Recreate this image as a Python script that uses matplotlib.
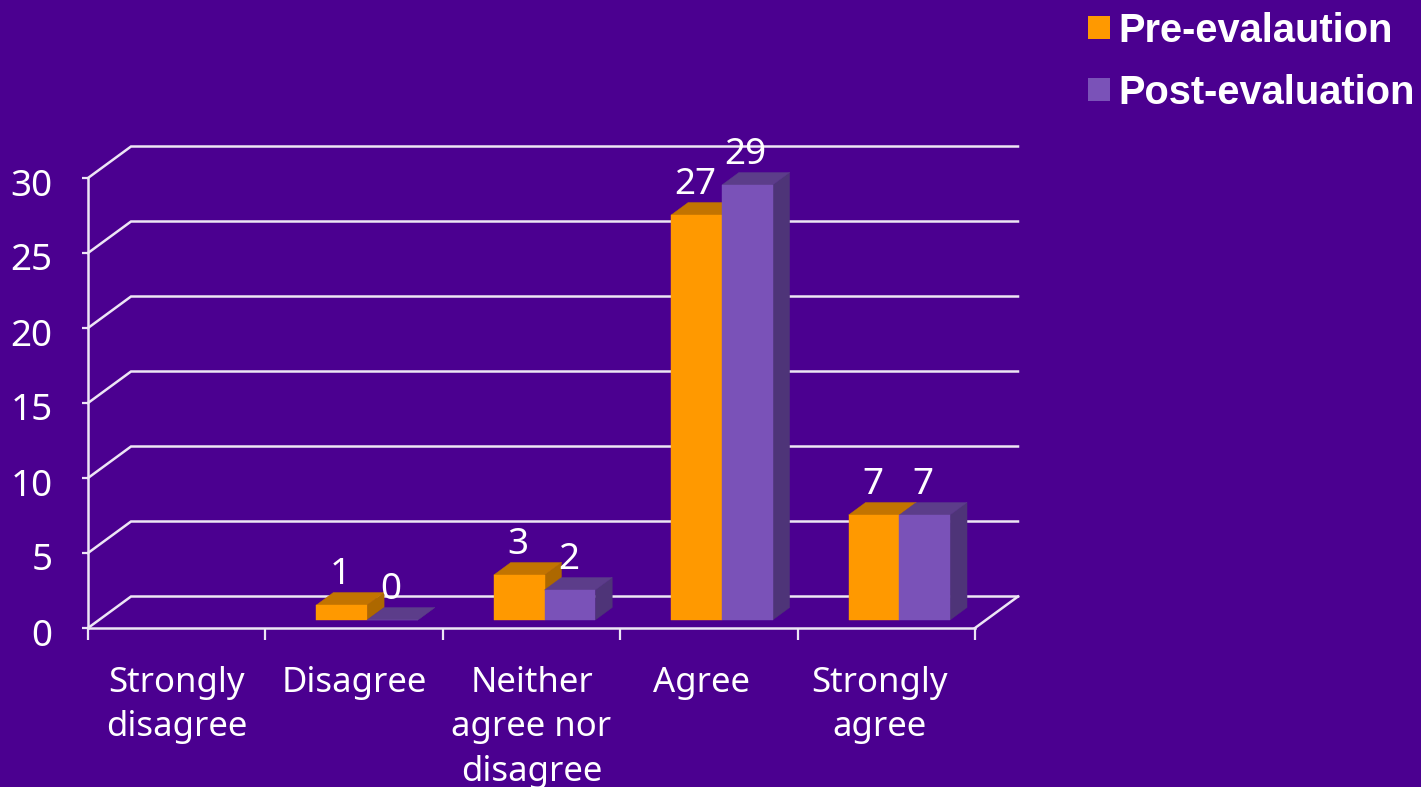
import matplotlib
matplotlib.use("Agg")
import matplotlib.pyplot as plt
from matplotlib.patches import Polygon, Patch
from matplotlib.transforms import IdentityTransform, ScaledTranslation
import numpy as np

categories = ["Strongly\ndisagree", "Disagree", "Neither\nagree nor\ndisagree", "Agree", "Strongly\nagree"]
pre_evaluation = [None, 1, 3, 27, 7]
post_evaluation = [None, 0, 2, 29, 7]
y_ticks = [0, 5, 10, 15, 20, 25, 30]
series_names = ["Pre-evalaution", "Post-evaluation"]

BG = "#4B0090"
LINE = "#EDE6F5"
ORANGE = ("#FF9900", "#C27400", "#AD6800")
PURPLE = ("#7A52B8", "#5C3D8A", "#4E3478")
W, H = 1421, 787
FONT = ["Noto Sans", "DejaVu Sans"]

fig = plt.figure(figsize=(W / 100, H / 100), dpi=100, facecolor=BG)
ax = fig.add_axes([88 / W, 1 - 628 / H, (975 - 88) / W, (628 - 178) / H])
ax.set_facecolor("none")
ax.set_xlim(0, 5)
ax.set_ylim(0, 30)

# axes, ticks, labels
for s in ["top", "right"]:
    ax.spines[s].set_visible(False)
for s in ["left", "bottom"]:
    ax.spines[s].set_color(LINE)
    ax.spines[s].set_linewidth(1.8)
ax.set_yticks(y_ticks)
ax.set_xticks(range(len(categories) + 1))
ax.set_xticklabels([])
ax.set_xticks([0.5, 1.5, 2.5, 3.46, 4.46], categories, minor=True, fontfamily=FONT,
              fontsize=25, color="white", linespacing=1.42)
ax.tick_params(axis="x", which="major", length=8.5, width=1.6, color=LINE)
ax.tick_params(axis="x", which="minor", length=0, pad=27)
ax.tick_params(axis="y", length=4.5, width=1.6, color=LINE, pad=21, labelsize=26.5, labelcolor="white")
ytick_shift = ScaledTranslation(0, -0.04, fig.dpi_scale_trans)
for t in ax.get_yticklabels():
    t.set_fontfamily(FONT)
    t.set_transform(t.get_transform() + ytick_shift)

# projection offsets, in pixels
WALL = np.array([43.0, 31.5])
FRONT = np.array([13.0, 8.0])
DEPTH = np.array([17.0, 12.5])
BAR_W = 0.286
tr = ax.transData
ident = IdentityTransform()


def P(x, y, off=(0, 0)):
    return tr.transform((x, y)) + np.asarray(off)


# walls and floor gridlines
for v in y_ticks:
    a = P(0, v)
    b = P(0, v, WALL)
    c = P(5, v, WALL)
    ax.plot([a[0], b[0], c[0]], [a[1], b[1], c[1]], transform=ident, color=LINE, lw=1.8,
            clip_on=False, zorder=1, solid_joinstyle="miter")
a, b = P(5, 0), P(5, 0, WALL)
ax.plot([a[0], b[0]], [a[1], b[1]], transform=ident, color=LINE, lw=1.8, clip_on=False, zorder=1)


def bar(i, x0, v, cols, z):
    x1 = x0 + BAR_W
    fl, fr = P(x0, 0, FRONT), P(x1, 0, FRONT)
    tl, tr_ = P(x0, v, FRONT), P(x1, v, FRONT)
    side = [fr, tr_, tr_ + DEPTH, fr + DEPTH]
    top = [tl, tr_, tr_ + DEPTH, tl + DEPTH]
    front = [fl, fr, tr_, tl]
    for pts, col in ((side, cols[2]), (top, cols[1]), (front, cols[0])):
        ax.add_patch(Polygon(pts, closed=True, transform=ident, facecolor=col, edgecolor=col,
                             lw=0.3, clip_on=False, zorder=z))
    c = P(x0 + BAR_W / 2, v, FRONT) + np.array([-1.5, 30])
    ax.text(c[0], c[1], str(v), transform=ident, ha="center", va="center", color="white",
            fontsize=26.5, fontfamily=FONT, zorder=20)


z = 3
for i in range(len(categories)):
    for j, (vals, cols) in enumerate(((pre_evaluation, ORANGE), (post_evaluation, PURPLE))):
        if vals[i] is None:
            continue
        bar(i, i + 0.5 - BAR_W + j * BAR_W, vals[i], cols, z)
        z += 0.1

handles = [Patch(facecolor=ORANGE[0], edgecolor="none"), Patch(facecolor=PURPLE[0], edgecolor="none")]
leg = fig.legend(handles, series_names, loc="upper left", bbox_to_anchor=(1088 / W, 1 - 12 / H),
                 frameon=False, prop={"family": ["Liberation Sans"], "weight": "bold", "size": 28.7},
                 labelcolor="white", handlelength=0.55, handleheight=0.5, handletextpad=0.2,
                 labelspacing=0.59, borderpad=0, borderaxespad=0)
fig.savefig("out.png", dpi=100, facecolor=BG)
